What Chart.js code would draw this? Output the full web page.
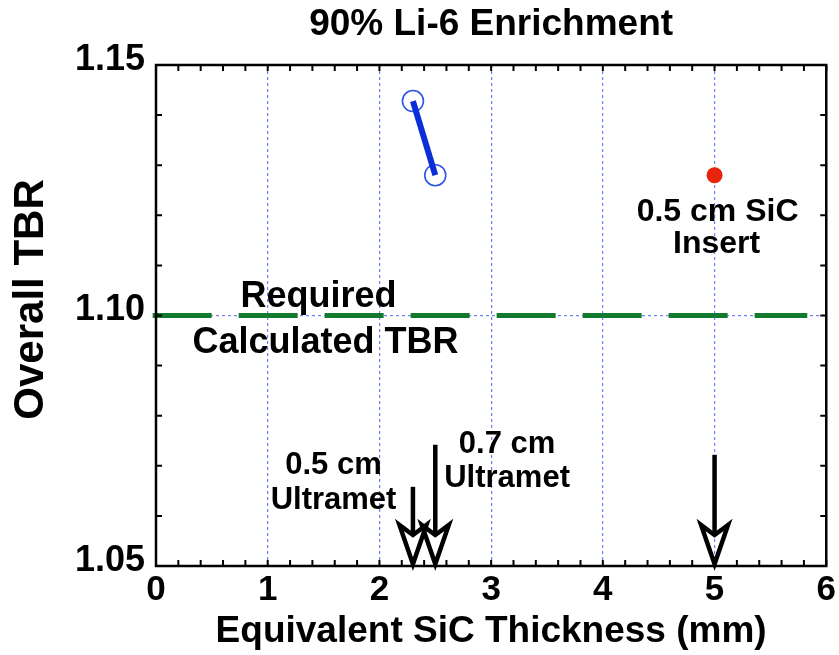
<!DOCTYPE html>
<html><head><meta charset="utf-8">
<script src="https://cdn.jsdelivr.net/npm/chart.js@4/dist/chart.umd.min.js"></script>
<style>html,body{margin:0;padding:0;background:#fff}#wrap{width:839px;height:655px}</style>
</head><body><div id="wrap"><canvas id="c" width="839" height="655"></canvas></div>
<script>
// ---- data ----
const chartTitle = '90% Li-6 Enrichment';
const xAxisTitle = 'Equivalent SiC Thickness (mm)';
const yAxisTitle = 'Overall TBR';
const xTickValues = [0, 1, 2, 3, 4, 5, 6];
const yTickValues = [1.05, 1.10, 1.15];
const ultrametThickness = [2.3, 2.5];
const ultrametTBR = [1.1428, 1.1280];
const insertThickness = [5.0];
const insertTBR = [1.1280];
const requiredTBR = 1.10;
const requiredLineX = [-0.03, 5.83];
const arrowX = [2.3, 2.5, 5.0];
const arrowTopY = [1.0658, 1.0742, 1.0722];
const arrowTipY = [1.05, 1.05, 1.05];

// ---- annotation text (anchor given in data units) ----
const annotations = [
  {text: 'Required',       x: 1.455, y: 1.1037, size: 36},
  {text: 'Calculated TBR', x: 1.518, y: 1.0945, size: 36},
  {text: '0.5 cm SiC',     x: 5.027, y: 1.1207, size: 32},
  {text: 'Insert',         x: 5.018, y: 1.1143, size: 32},
  {text: '0.5 cm',         x: 1.589, y: 1.0700, size: 31},
  {text: 'Ultramet',       x: 1.589, y: 1.0630, size: 31},
  {text: '0.7 cm',         x: 3.143, y: 1.0742, size: 31},
  {text: 'Ultramet',       x: 3.143, y: 1.0674, size: 31}
];

const FONT = '"Liberation Sans", Arial, Helvetica, sans-serif';

const decor = {
  id: 'decor',
  afterDatasetsDraw(chart) {
    const {ctx, chartArea: a, scales: {x, y}} = chart;
    ctx.save();
    // frame
    ctx.strokeStyle = '#000';
    ctx.lineWidth = 2.5;
    ctx.strokeRect(a.left, a.top, a.right - a.left, a.bottom - a.top);
    // inward ticks on all four sides
    ctx.lineWidth = 2;
    ctx.beginPath();
    for (let k = 0; k <= 30; k++) {
      const px = x.getPixelForValue(x.min + k * 0.2);
      ctx.moveTo(px, a.bottom); ctx.lineTo(px, a.bottom - 6);
      ctx.moveTo(px, a.top); ctx.lineTo(px, a.top + 6);
    }
    for (let k = 0; k <= 10; k++) {
      const py = y.getPixelForValue(y.min + k * 0.01);
      ctx.moveTo(a.left, py); ctx.lineTo(a.left + 6, py);
      ctx.moveTo(a.right, py); ctx.lineTo(a.right - 6, py);
    }
    ctx.stroke();
    // arrows
    ctx.lineWidth = 4.5;
    ctx.lineJoin = 'miter';
    arrowX.forEach((v, i) => {
      const px = x.getPixelForValue(v);
      const top = y.getPixelForValue(arrowTopY[i]);
      const tip = y.getPixelForValue(arrowTipY[i]);
      const L = 41, W = 13.5, N = 10;
      ctx.beginPath();
      ctx.moveTo(px, top); ctx.lineTo(px, tip - L + N);
      ctx.stroke();
      ctx.beginPath();
      ctx.moveTo(px, tip - 2);
      ctx.lineTo(px - W, tip - L);
      ctx.lineTo(px, tip - L + N);
      ctx.lineTo(px + W, tip - L);
      ctx.closePath();
      ctx.stroke();
    });
    // annotations
    ctx.fillStyle = '#000';
    ctx.textAlign = 'center';
    ctx.textBaseline = 'middle';
    annotations.forEach(t => {
      ctx.font = 'bold ' + t.size + 'px ' + FONT;
      ctx.fillText(t.text, x.getPixelForValue(t.x), y.getPixelForValue(t.y));
    });
    // y axis title
    ctx.font = 'bold 42px ' + FONT;
    ctx.translate(31, (a.top + a.bottom) / 2 - 16);
    ctx.rotate(-Math.PI / 2);
    ctx.fillText(yAxisTitle, 0, 0);
    ctx.restore();
  }
};

const gridColor = (edgeMin, edgeMax) => c =>
  (c.tick && (Math.abs(c.tick.value - edgeMin) < 1e-9 || Math.abs(c.tick.value - edgeMax) < 1e-9))
    ? 'rgba(0,0,0,0)' : '#6a84f7';

new Chart(document.getElementById('c'), {
  type: 'scatter',
  data: {
    datasets: [
      {
        label: 'Ultramet line',
        data: ultrametThickness.map((v, i) => ({x: v, y: ultrametTBR[i]})),
        showLine: true, borderColor: '#0b2fd6', borderWidth: 6,
        pointRadius: 0, order: 0
      },
      {
        label: 'Ultramet points',
        data: ultrametThickness.map((v, i) => ({x: v, y: ultrametTBR[i]})),
        showLine: false, pointRadius: 10.5, pointBorderColor: '#2f55e8',
        pointBorderWidth: 1.6, pointBackgroundColor: 'rgba(0,0,0,0)', order: 1
      },
      {
        label: 'SiC insert',
        data: insertThickness.map((v, i) => ({x: v, y: insertTBR[i]})),
        showLine: false, pointRadius: 8, pointBackgroundColor: '#e8240c',
        pointBorderWidth: 0, order: 2
      },
      {
        label: 'Required',
        data: requiredLineX.map(v => ({x: v, y: requiredTBR})),
        showLine: true, borderColor: '#127a2c', borderWidth: 5, borderDash: [59, 27],
        pointRadius: 0, clip: false, order: 3
      }
    ]
  },
  options: {
    responsive: false,
    devicePixelRatio: 1,
    animation: false,
    events: [],
    layout: {padding: {left: 0, right: 11, top: 0, bottom: 0}},
    plugins: {
      legend: {display: false},
      tooltip: {enabled: false},
      title: {
        display: true, text: chartTitle, color: '#000', fullSize: false,
        font: {family: FONT, size: 37, weight: 'bold'},
        padding: {top: 3, bottom: 17.6}
      }
    },
    scales: {
      x: {
        type: 'linear', min: 0, max: 6,
        afterBuildTicks: s => { s.ticks = xTickValues.map(v => ({value: v})); },
        afterFit: s => { s.height = 89; },
        grid: {drawTicks: false, lineWidth: 1.2, color: gridColor(0, 6)},
        border: {display: false, dash: [3, 3]},
        ticks: {
          color: '#000', font: {family: FONT, size: 35, weight: 'bold'},
          padding: 3, maxRotation: 0, autoSkip: false, callback: v => String(v)
        },
        title: {
          display: true, text: xAxisTitle, color: '#000',
          font: {family: FONT, size: 37, weight: 'bold'}, padding: {top: 0, bottom: 1}
        }
      },
      y: {
        type: 'linear', min: 1.05, max: 1.15,
        afterBuildTicks: s => { s.ticks = yTickValues.map(v => ({value: v})); },
        afterFit: s => { s.width = 156; },
        grid: {drawTicks: false, lineWidth: 1.2, color: gridColor(1.05, 1.15)},
        border: {display: false, dash: [3, 3]},
        ticks: {
          color: '#000', font: {family: FONT, size: 36, weight: 'bold'},
          padding: 11, labelOffset: -5, callback: v => Number(v).toFixed(2)
        },
        title: {display: false}
      }
    }
  },
  plugins: [decor]
});
</script>
</body></html>
